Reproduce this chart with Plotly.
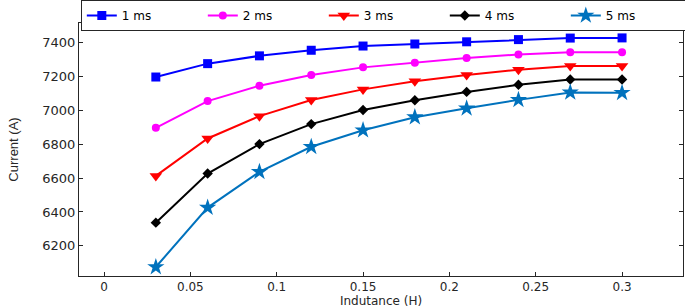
import plotly.graph_objects as go

inductance = [0.03, 0.06, 0.09, 0.12, 0.15, 0.18, 0.21, 0.24, 0.27, 0.30]
series_names = ["1 ms", "2 ms", "3 ms", "4 ms", "5 ms"]
current_1ms = [7197, 7276, 7322, 7355, 7380, 7392, 7405, 7418, 7427, 7428]
current_2ms = [6897, 7055, 7146, 7209, 7254, 7282, 7310, 7330, 7343, 7343]
current_3ms = [6613, 6834, 6966, 7061, 7124, 7172, 7209, 7240, 7262, 7262]
current_4ms = [6337, 6627, 6801, 6919, 7002, 7060, 7109, 7151, 7182, 7182]
current_5ms = [6075, 6426, 6637, 6785, 6883, 6960, 7012, 7062, 7106, 7104]
x_ticks = [0, 0.05, 0.1, 0.15, 0.2, 0.25, 0.3]
x_tick_labels = ["0", "0.05", "0.1", "0.15", "0.2", "0.25", "0.3"]
y_ticks = [6200, 6400, 6600, 6800, 7000, 7200, 7400]

all_series = [current_1ms, current_2ms, current_3ms, current_4ms, current_5ms]
colors = ["#0000FF", "#FF00FF", "#FF0000", "#000000", "#0072BD"]
symbols = ["square", "circle", "triangle-down", "diamond", "star"]
sizes = [9, 8, 11, 8, 13]

fig = go.Figure()
for name, vals, c, s, sz in zip(series_names, all_series, colors, symbols, sizes):
    fig.add_trace(go.Scatter(
        x=inductance, y=vals, name=name, mode="lines+markers",
        line=dict(color=c, width=2),
        marker=dict(symbol=s, size=sz, color=c, line=dict(width=0)),
    ))

axis_common = dict(
    showline=True, linecolor="#262626", linewidth=1, mirror="ticks",
    ticks="inside", ticklen=4, tickcolor="#262626", tickwidth=1,
    showgrid=False, zeroline=False, automargin=False,
)

fig.update_layout(
    width=685, height=308,
    margin=dict(l=79, r=2, t=23, b=32, autoexpand=False),
    paper_bgcolor="white", plot_bgcolor="white",
    xaxis=dict(range=[-0.0145, 0.3353], tickvals=x_ticks, ticktext=x_tick_labels,
               tickfont=dict(family="DejaVu Sans", size=12, color="#262626"),
               title=dict(text="Indutance (H)", standoff=0,
                          font=dict(family="DejaVu Sans", size=12, color="#262626")),
               **axis_common),
    yaxis=dict(range=[6022, 7516], tickvals=y_ticks,
               tickfont=dict(family="DejaVu Sans", size=13, color="#262626"),
               title=dict(text="Current (A)", standoff=20,
                          font=dict(family="Liberation Sans Narrow, Liberation Sans", size=13, color="#262626")),
               **axis_common),
    legend=dict(orientation="h", x=0.003, xref="paper", xanchor="left",
                y=1.0, yref="container", yanchor="top",
                bordercolor="#262626", borderwidth=1, bgcolor="white",
                entrywidth=76, entrywidthmode="pixels",
                font=dict(family="DejaVu Sans", size=12, color="#000000"),
                tracegroupgap=0, itemsizing="trace"),
    showlegend=True,
)

fig.write_html("out.html", config={"displayModeBar": False},
               post_script="document.body.style.margin='0';")
